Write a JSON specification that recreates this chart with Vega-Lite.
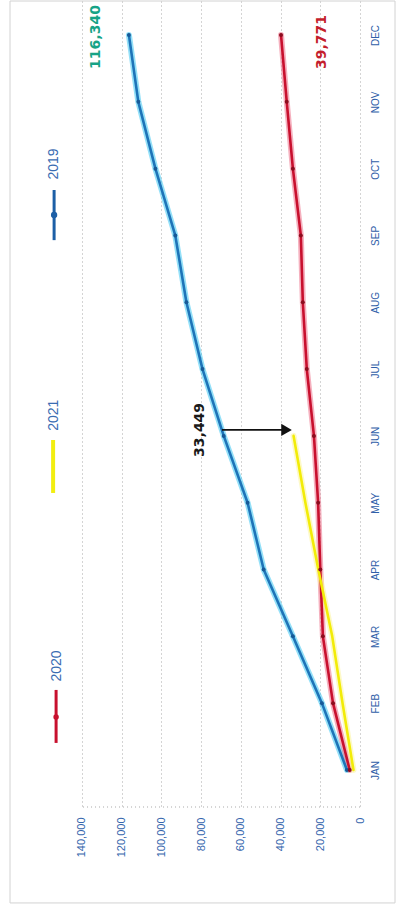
{
  "$schema": "https://vega.github.io/schema/vega-lite/v6.json",
  "width": 385,
  "height": 806,
  "autosize": {"type": "none"},
  "padding": {"left": 10, "top": 1, "right": 14, "bottom": 102},
  "background": "white",
  "config": {
    "view": {"stroke": null},
    "font": "Liberation Sans"
  },
  "datasets": {
    "sales": [
      {"series": "2019", "month": 1, "value": 6600},
      {"series": "2019", "month": 2, "value": 19200},
      {"series": "2019", "month": 3, "value": 33800},
      {"series": "2019", "month": 4, "value": 48500},
      {"series": "2019", "month": 5, "value": 56600},
      {"series": "2019", "month": 6, "value": 68600},
      {"series": "2019", "month": 7, "value": 79300},
      {"series": "2019", "month": 8, "value": 87400},
      {"series": "2019", "month": 9, "value": 93000},
      {"series": "2019", "month": 10, "value": 103000},
      {"series": "2019", "month": 11, "value": 111600},
      {"series": "2019", "month": 12, "value": 116340},
      {"series": "2020", "month": 1, "value": 5200},
      {"series": "2020", "month": 2, "value": 13600},
      {"series": "2020", "month": 3, "value": 18700},
      {"series": "2020", "month": 4, "value": 20000},
      {"series": "2020", "month": 5, "value": 21100},
      {"series": "2020", "month": 6, "value": 23200},
      {"series": "2020", "month": 7, "value": 26800},
      {"series": "2020", "month": 8, "value": 28800},
      {"series": "2020", "month": 9, "value": 29800},
      {"series": "2020", "month": 10, "value": 33800},
      {"series": "2020", "month": 11, "value": 36900},
      {"series": "2020", "month": 12, "value": 39771},
      {"series": "2021", "month": 1, "value": 3300},
      {"series": "2021", "month": 2, "value": 8800},
      {"series": "2021", "month": 3, "value": 14000},
      {"series": "2021", "month": 4, "value": 21000},
      {"series": "2021", "month": 5, "value": 27500},
      {"series": "2021", "month": 6, "value": 33449}
    ]
  },
  "layer": [
    {
      "data": {"name": "sales"},
      "mark": {"type": "line", "strokeWidth": 6, "opacity": 0.55, "strokeCap": "round", "strokeJoin": "round"},
      "encoding": {
        "x": {
          "field": "value",
          "type": "quantitative",
          "title": null,
          "scale": {"domain": [-17600, 176200], "reverse": true, "nice": false, "zero": false},
          "axis": {
            "orient": "bottom",
            "title": null,
            "values": [0, 20000, 40000, 60000, 80000, 100000, 120000, 140000],
            "labelExpr": "format(datum.value, ',')",
            "labelAngle": 270,
            "labelAlign": "right",
            "labelBaseline": "middle",
            "labelPadding": 10,
            "labelFontSize": 11,
            "labelColor": "#3566ad",
            "labelOverlap": false,
            "labelFlush": false,
            "ticks": false,
            "domain": false,
            "grid": true,
            "gridColor": "#a8a8a8",
            "gridDash": [1, 3],
            "gridWidth": 1
          }
        },
        "y": {
          "field": "month",
          "type": "quantitative",
          "title": null,
          "scale": {"domain": [0.446, 12.509], "nice": false, "zero": false},
          "axis": {
            "orient": "right",
            "offset": -35,
            "title": null,
            "values": [1, 2, 3, 4, 5, 6, 7, 8, 9, 10, 11, 12],
            "labelExpr": "['JAN','FEB','MAR','APR','MAY','JUN','JUL','AUG','SEP','OCT','NOV','DEC'][datum.value - 1]",
            "labelAngle": 270,
            "labelAlign": "center",
            "labelBaseline": "top",
            "labelPadding": 10,
            "labelFontSize": 10,
            "labelColor": "#2f5ea8",
            "labelOverlap": false,
            "labelFlush": false,
            "ticks": false,
            "domain": false,
            "grid": false
          }
        },
        "order": {"field": "month", "type": "quantitative"},
        "stroke": {
          "field": "series",
          "type": "nominal",
          "scale": {"domain": ["2019", "2020", "2021"], "range": ["#3cc6f2", "#ec7088", "#fbf49a"]},
          "legend": null
        }
      }
    },
    {
      "data": {"name": "sales"},
      "mark": {"type": "line", "strokeWidth": 2.6, "strokeCap": "round", "strokeJoin": "round"},
      "encoding": {
        "x": {"field": "value", "type": "quantitative", "title": null},
        "y": {"field": "month", "type": "quantitative", "title": null},
        "order": {"field": "month", "type": "quantitative"},
        "color": {
          "field": "series",
          "type": "nominal",
          "scale": {"domain": ["2019", "2020", "2021"], "range": ["#1e74b8", "#c8102e", "#f2ec08"]},
          "legend": null
        }
      }
    },
    {
      "data": {"name": "sales"},
      "transform": [{"filter": "datum.series != '2021'"}],
      "mark": {"type": "point", "filled": true, "size": 16, "opacity": 1},
      "encoding": {
        "x": {"field": "value", "type": "quantitative", "title": null},
        "y": {"field": "month", "type": "quantitative", "title": null},
        "fill": {
          "field": "series",
          "type": "nominal",
          "scale": {"domain": ["2019", "2020"], "range": ["#175a98", "#8c0c1e"]},
          "legend": null
        }
      }
    },
    {
      "data": {"values": [{}]},
      "mark": {"type": "rect", "fill": null, "stroke": "#d2d2d2", "strokeWidth": 1},
      "encoding": {
        "x": {"datum": 176200, "type": "quantitative", "title": null},
        "x2": {"datum": -17600},
        "y": {"datum": 12.509, "type": "quantitative", "title": null},
        "y2": {"datum": -0.99}
      }
    },
    {
      "data": {"values": [{}]},
      "mark": {"type": "rule", "stroke": "#a8a8a8", "strokeDash": [1, 3], "strokeWidth": 1},
      "encoding": {
        "x": {"datum": 0, "type": "quantitative", "title": null},
        "x2": {"datum": 140000},
        "y": {"datum": 0.446, "type": "quantitative", "title": null}
      }
    },
    {
      "data": {"values": [{}]},
      "mark": {"type": "rule", "stroke": "#111111", "strokeWidth": 1.6},
      "encoding": {
        "x": {"datum": 69500, "type": "quantitative", "title": null},
        "x2": {"datum": 37000},
        "y": {"datum": 6.09, "type": "quantitative", "title": null}
      }
    },
    {
      "data": {"values": [{}]},
      "mark": {"type": "point", "shape": "triangle-right", "filled": true, "size": 150, "color": "#111111", "opacity": 1},
      "encoding": {
        "x": {"datum": 37000, "type": "quantitative", "title": null},
        "y": {"datum": 6.09, "type": "quantitative", "title": null}
      }
    },
    {
      "data": {"values": [{"month": 12, "value": 116340}]},
      "mark": {"type": "text", "angle": 270, "align": "center", "baseline": "middle", "font": "DejaVu Sans", "fontWeight": "bold", "fontSize": 14, "color": "#17a386", "dy": -33, "dx": -2},
      "encoding": {
        "x": {"field": "value", "type": "quantitative", "title": null},
        "y": {"field": "month", "type": "quantitative", "title": null},
        "text": {"field": "value", "type": "quantitative", "format": ","}
      }
    },
    {
      "data": {"values": [{"month": 12, "value": 39771}]},
      "mark": {"type": "text", "angle": 270, "align": "center", "baseline": "middle", "font": "DejaVu Sans", "fontWeight": "bold", "fontSize": 14, "color": "#c41e2c", "dy": 41, "dx": -7},
      "encoding": {
        "x": {"field": "value", "type": "quantitative", "title": null},
        "y": {"field": "month", "type": "quantitative", "title": null},
        "text": {"field": "value", "type": "quantitative", "format": ","}
      }
    },
    {
      "data": {"values": [{"month": 6, "value": 33449}]},
      "mark": {"type": "text", "angle": 270, "align": "center", "baseline": "middle", "font": "DejaVu Sans", "fontWeight": "bold", "fontSize": 14, "color": "#1a1a1a", "dy": -94, "dx": 6},
      "encoding": {
        "x": {"field": "value", "type": "quantitative", "title": null},
        "y": {"field": "month", "type": "quantitative", "title": null},
        "text": {"field": "value", "type": "quantitative", "format": ","}
      }
    },
    {
      "data": {"values": [{}]},
      "mark": {"type": "rule", "stroke": "#1d5fa6", "strokeWidth": 3},
      "encoding": {
        "x": {"datum": 154000, "type": "quantitative", "title": null},
        "y": {"datum": 9.68, "type": "quantitative", "title": null},
        "y2": {"datum": 8.93}
      }
    },
    {
      "data": {"values": [{}]},
      "mark": {"type": "point", "filled": true, "size": 40, "color": "#1d5fa6", "opacity": 1},
      "encoding": {
        "x": {"datum": 154000, "type": "quantitative", "title": null},
        "y": {"datum": 9.306, "type": "quantitative", "title": null}
      }
    },
    {
      "data": {"values": [{}]},
      "mark": {"type": "text", "text": "2019", "angle": 270, "align": "center", "baseline": "middle", "fontSize": 14, "color": "#3a6cb2"},
      "encoding": {
        "x": {"datum": 154000, "type": "quantitative", "title": null},
        "y": {"datum": 10.07, "type": "quantitative", "title": null}
      }
    },
    {
      "data": {"values": [{}]},
      "mark": {"type": "rule", "stroke": "#f2ee10", "strokeWidth": 4},
      "encoding": {
        "x": {"datum": 154500, "type": "quantitative", "title": null},
        "y": {"datum": 5.939, "type": "quantitative", "title": null},
        "y2": {"datum": 5.146}
      }
    },
    {
      "data": {"values": [{}]},
      "mark": {"type": "text", "text": "2021", "angle": 270, "align": "center", "baseline": "middle", "fontSize": 14, "color": "#3a6cb2"},
      "encoding": {
        "x": {"datum": 154000, "type": "quantitative", "title": null},
        "y": {"datum": 6.31, "type": "quantitative", "title": null}
      }
    },
    {
      "data": {"values": [{}]},
      "mark": {"type": "rule", "stroke": "#c8102e", "strokeWidth": 3},
      "encoding": {
        "x": {"datum": 153000, "type": "quantitative", "title": null},
        "y": {"datum": 2.198, "type": "quantitative", "title": null},
        "y2": {"datum": 1.405}
      }
    },
    {
      "data": {"values": [{}]},
      "mark": {"type": "point", "filled": true, "size": 30, "color": "#c8102e", "opacity": 1},
      "encoding": {
        "x": {"datum": 153000, "type": "quantitative", "title": null},
        "y": {"datum": 1.794, "type": "quantitative", "title": null}
      }
    },
    {
      "data": {"values": [{}]},
      "mark": {"type": "text", "text": "2020", "angle": 270, "align": "center", "baseline": "middle", "fontSize": 14, "color": "#3a6cb2"},
      "encoding": {
        "x": {"datum": 152500, "type": "quantitative", "title": null},
        "y": {"datum": 2.557, "type": "quantitative", "title": null}
      }
    }
  ]
}
